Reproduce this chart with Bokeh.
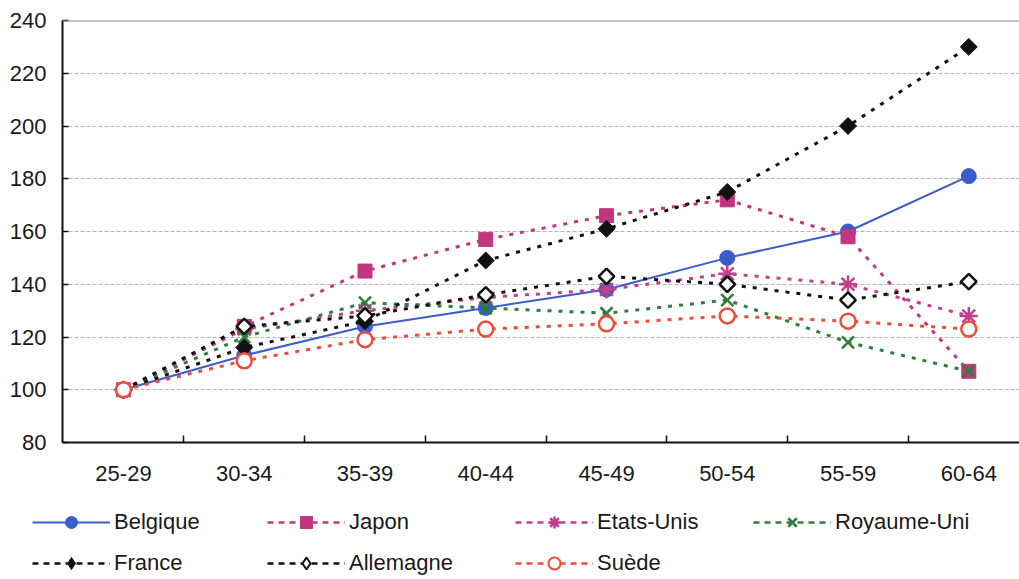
import math
from bokeh.plotting import figure
from bokeh.layouts import column
from bokeh.models import Range1d, FixedTicker, Legend, LegendItem, Span
from bokeh.embed import file_html
from bokeh.resources import INLINE

categories = ["25-29", "30-34", "35-39", "40-44", "45-49", "50-54", "55-59", "60-64"]
belgique = [100, 113, 124, 131, 138, 150, 160, 181]
japon = [100, 124, 145, 157, 166, 172, 158, 107]
etats_unis = [100, 123, 130, 135, 138, 144, 140, 128]
royaume_uni = [100, 120, 133, 131, 129, 134, 118, 107]
france = [100, 116, 126, 149, 161, 175, 200, 230]
allemagne = [100, 124, 128, 136, 143, 140, 134, 141]
suede = [100, 111, 119, 123, 125, 128, 126, 123]
y_ticks = [80, 100, 120, 140, 160, 180, 200, 220, 240]

xs = list(range(len(categories)))
FONT = "Liberation Sans"
W = 1019

p = figure(width=W, height=495, title=None,
           x_range=Range1d(-0.505, 7.42), y_range=Range1d(80, 240),
           output_backend="svg", toolbar_location=None,
           min_border_left=62, min_border_top=20, min_border_right=0,
           min_border_bottom=53)
p.frame_align = False
p.outline_line_color = None
p.background_fill_color = "white"

# axes
xa = p.xaxis[0]
xa.ticker = FixedTicker(ticks=xs, minor_ticks=[i + 0.5 for i in range(len(categories) - 1)])
xa.major_label_overrides = {i: c for i, c in enumerate(categories)}
xa.major_tick_in = 0
xa.major_tick_out = 0
xa.minor_tick_in = 7
xa.minor_tick_out = 0
xa.minor_tick_line_color = "#111"
xa.minor_tick_line_width = 1.5
xa.axis_line_color = "#111"
xa.axis_line_width = 2
xa.major_label_text_font = FONT
xa.major_label_text_font_size = "22px"
xa.major_label_text_color = "#1a1a1a"
xa.major_label_standoff = 23

ya = p.yaxis[0]
ya.ticker = FixedTicker(ticks=y_ticks)
ya.major_tick_in = 6
ya.major_tick_out = 0
ya.minor_tick_line_color = None
ya.major_tick_line_color = "#111"
ya.major_tick_line_width = 1.5
ya.axis_line_color = "#111"
ya.axis_line_width = 2
ya.major_label_text_font = FONT
ya.major_label_text_font_size = "22px"
ya.major_label_text_color = "#1a1a1a"
ya.major_label_standoff = 16

p.xgrid.grid_line_color = None
p.ygrid.grid_line_color = "#b5b5b5"
p.ygrid.grid_line_dash = "4 2"
p.ygrid.grid_line_width = 1

p.add_layout(Span(location=240, dimension="width", line_color="#8a8a8a", line_width=2))

# name, values, colour, marker, fill, dash, line width, marker size, marker angle
series = [
    ("Belgique", belgique, "#3b5ccb", "circle", "#3b5ccb", "solid", 2, 15, 0),
    ("Japon", japon, "#c2367f", "square", "#c2367f", "4 7", 3, 14, 0),
    ("Etats-Unis", etats_unis, "#c0408f", "asterisk", None, "4 7", 3, 18, 0),
    ("Royaume-Uni", royaume_uni, "#2f7d3c", "x", None, "4 7", 3, 17, 0),
    ("France", france, "#111111", "square", "#111111", "4 7", 3, 12, math.pi / 4),
    ("Allemagne", allemagne, "#111111", "square", "white", "4 7", 3, 11, math.pi / 4),
    ("Suède", suede, "#ee4b3a", "circle", "white", "4 7", 3, 15, 0),
]

# legend strip under the chart (its ranges keep the series out of view,
# the renderers only supply the legend keys' styles)
lf = figure(width=W, height=84, x_range=Range1d(-100, -99), y_range=Range1d(0, 1),
            output_backend="svg", toolbar_location=None, min_border=0, title=None,
            x_axis_location=None, y_axis_location=None)
lf.frame_align = False
lf.grid.grid_line_color = None
lf.outline_line_color = None

leg_items = []
for name, vals, col, marker, fill, dash, lw, size, ang in series:
    lw_m = 1 if fill == col else 2.5
    p.line(xs, vals, line_color=col, line_width=lw, line_dash=dash)
    p.scatter(xs, vals, marker=marker, size=size, angle=ang, line_color=col,
              fill_color=fill, line_width=lw_m)
    l2 = lf.line(xs, vals, line_color=col, line_width=2 if dash == "solid" else 2.5,
                 line_dash="solid" if dash == "solid" else "6 5")
    key_marker = "diamond" if ang else marker
    s2 = lf.scatter(xs, vals, marker=key_marker, size=size, line_color=col,
                    fill_color=fill, line_width=2 if fill == "white" else lw_m)
    leg_items.append((name, [l2, s2]))

col_x = [32, 267, 515, 753]
row_y = [42, 1]
order = [(0, 0), (0, 1), (0, 2), (0, 3), (1, 0), (1, 1), (1, 2)]
for (name, rends), (r, c) in zip(leg_items, order):
    leg = Legend(items=[LegendItem(label=name, renderers=rends)],
                 location=(col_x[c], row_y[r]),
                 padding=0, margin=0, border_line_color=None,
                 background_fill_alpha=0, glyph_width=78, glyph_height=30,
                 label_height=30, label_standoff=4,
                 label_text_font=FONT, label_text_font_size="22px",
                 label_text_color="#1a1a1a")
    lf.add_layout(leg)

layout = column(p, lf, spacing=0)
open("out.html", "w").write(file_html(layout, INLINE))
